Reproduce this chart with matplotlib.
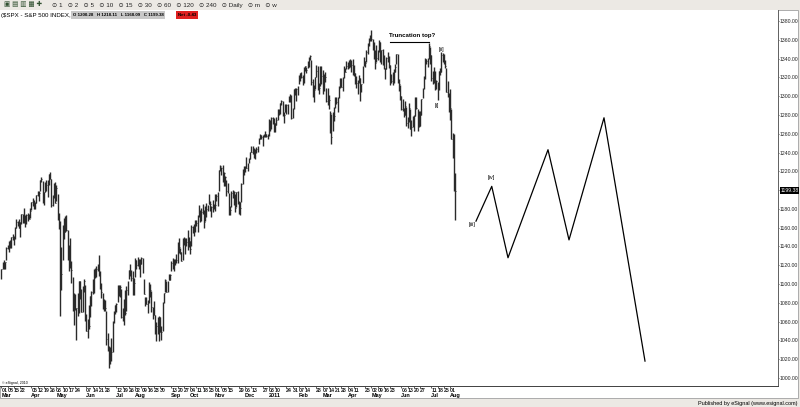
import numpy as np
import pandas as pd
import matplotlib
matplotlib.use("Agg")
import matplotlib.pyplot as plt
import matplotlib.transforms as mtransforms
from matplotlib.patches import Rectangle

plt.rcParams['font.family'] = ['Liberation Sans', 'DejaVu Sans']

# trading calendar, Mar 2010 - Aug 2011
start, end = "2010-03-01", "2011-08-05"
holidays = ["2010-04-02", "2010-05-31", "2010-07-05", "2010-09-06", "2010-11-25",
            "2010-12-24", "2011-01-17", "2011-02-21", "2011-04-22", "2011-05-30",
            "2011-07-04"]

# daily highs / lows / closes, month by month
highs = [
    # 2010 Mar
    1116.0, 1123.5, 1125.6, 1123.7, 1139.4, 1141.1, 1145.4, 1147.4, 1150.2, 1153.4, 1151.4, 1160.3,
    1169.6, 1167.0, 1169.2, 1166.1, 1174.7, 1174.6, 1180.7, 1173.9, 1174.9, 1175.7, 1174.9,
    # Apr
    1181.4, 1187.7, 1191.8, 1189.6, 1187.0, 1194.7, 1199.2, 1199.0, 1210.7, 1213.9, 1210.2, 1197.9,
    1208.5, 1210.6, 1210.3, 1217.3, 1219.8, 1211.4, 1195.0, 1207.3, 1208.9,
    # May
    1205.1, 1196.2, 1175.9, 1167.6, 1139.4, 1163.2, 1170.5, 1172.9, 1173.6, 1157.2, 1141.8, 1148.7,
    1124.3, 1107.3, 1090.2, 1089.0, 1074.8, 1090.8, 1103.5, 1102.9,
    # Jun
    1094.8, 1098.4, 1105.7, 1098.6, 1067.9, 1063.0, 1077.7, 1087.0, 1092.3, 1105.9, 1115.6, 1116.6,
    1118.7, 1121.0, 1131.2, 1114.0, 1101.3, 1090.8, 1083.6, 1082.6, 1071.0, 1048.1,
    # Jul
    1033.6, 1032.9, 1042.5, 1060.6, 1071.3, 1078.2, 1080.3, 1099.1, 1099.5, 1099.1, 1094.9, 1074.7,
    1083.9, 1093.7, 1097.5, 1103.7, 1115.0, 1120.9, 1114.7, 1113.7, 1106.4,
    # Aug
    1127.3, 1125.4, 1128.7, 1126.6, 1126.6, 1129.2, 1127.3, 1105.9, 1086.1, 1086.3, 1082.6, 1101.7,
    1099.8, 1092.9, 1075.6, 1081.6, 1067.4, 1059.4, 1065.2, 1065.8, 1064.8, 1055.1,
    # Sep
    1081.3, 1090.1, 1105.1, 1103.1, 1103.3, 1110.9, 1110.3, 1124.1, 1127.4, 1126.3, 1126.8, 1131.5,
    1144.4, 1148.9, 1138.1, 1133.9, 1148.9, 1149.9, 1149.0, 1148.6, 1157.2,
    # Oct
    1150.3, 1146.1, 1162.8, 1162.3, 1163.9, 1167.7, 1168.7, 1173.5, 1184.4, 1178.9, 1181.2, 1185.5,
    1178.5, 1182.9, 1186.7, 1183.9, 1196.1, 1187.9, 1183.4, 1189.5, 1185.5,
    # Nov
    1195.8, 1195.9, 1198.3, 1221.3, 1227.1, 1224.6, 1226.8, 1218.8, 1215.4, 1210.5, 1207.4, 1197.3,
    1183.6, 1199.0, 1200.0, 1198.9, 1196.0, 1198.4, 1198.9, 1187.9, 1187.4,
    # Dec
    1207.6, 1222.5, 1225.6, 1225.7, 1235.1, 1228.9, 1234.3, 1240.4, 1246.7, 1246.6, 1244.3, 1243.8,
    1245.6, 1247.1, 1255.0, 1259.4, 1258.6, 1258.6, 1259.9, 1262.6, 1260.0, 1259.3,
    # 2011 Jan
    1276.2, 1274.1, 1277.6, 1278.2, 1276.8, 1271.5, 1277.6, 1286.3, 1286.3, 1293.2, 1296.1, 1294.4,
    1283.5, 1291.9, 1291.3, 1291.3, 1299.7, 1302.7, 1301.3, 1287.2,
    # Feb
    1308.0, 1308.4, 1308.6, 1311.0, 1322.9, 1324.9, 1326.0, 1323.0, 1330.8, 1332.6, 1330.9, 1337.6,
    1341.5, 1344.1, 1338.9, 1317.9, 1312.4, 1320.6, 1333.3,
    # Mar
    1332.3, 1314.4, 1332.3, 1332.3, 1327.7, 1324.0, 1326.0, 1308.4, 1308.4, 1301.5, 1283.7, 1280.9,
    1282.8, 1288.9, 1298.6, 1299.0, 1298.6, 1311.3, 1319.2, 1319.2, 1320.0, 1331.7, 1329.8,
    # Apr
    1337.9, 1336.7, 1338.2, 1339.5, 1338.8, 1339.5, 1333.2, 1324.5, 1321.4, 1316.8, 1323.0, 1319.7,
    1312.7, 1332.1, 1341.2, 1337.5, 1349.6, 1357.1, 1361.7, 1364.6,
    # May
    1370.6, 1361.2, 1357.5, 1348.7, 1354.4, 1349.4, 1359.4, 1357.2, 1348.7, 1350.5, 1343.3, 1330.4,
    1341.6, 1346.8, 1342.8, 1333.1, 1323.7, 1325.9, 1328.5, 1334.0, 1345.2,
    # Jun
    1345.2, 1318.0, 1312.2, 1300.6, 1297.0, 1287.2, 1294.5, 1288.9, 1277.3, 1292.5, 1286.6, 1274.3,
    1279.0, 1280.4, 1298.6, 1298.6, 1286.8, 1284.0, 1284.5, 1296.9, 1309.2, 1321.9,
    # Jul
    1341.0, 1340.0, 1340.1, 1356.5, 1352.2, 1343.7, 1327.2, 1331.5, 1326.7, 1317.1, 1315.5, 1327.0,
    1330.4, 1347.0, 1346.1, 1345.0, 1338.0, 1329.6, 1316.3, 1303.5,
    # Aug
    1307.4, 1286.6, 1261.0, 1260.1, 1218.1,
]

lows = [
    # 2010 Mar
    1105.4, 1116.1, 1116.1, 1116.1, 1125.5, 1137.8, 1134.6, 1138.8, 1138.8, 1146.9, 1141.2, 1147.8,
    1159.5, 1161.8, 1159.5, 1150.5, 1163.5, 1165.1, 1164.7, 1161.1, 1163.8, 1167.6, 1169.2,
    # Apr
    1170.7, 1178.7, 1182.8, 1180.1, 1179.9, 1186.0, 1194.1, 1188.8, 1198.9, 1208.5, 1186.8, 1183.7,
    1197.5, 1198.9, 1193.0, 1205.1, 1211.3, 1181.6, 1182.8, 1191.6, 1186.6,
    # May
    1188.6, 1168.1, 1158.2, 1065.8, 1094.2, 1126.0, 1147.7, 1155.9, 1156.1, 1126.1, 1114.0, 1117.2,
    1100.7, 1071.6, 1055.9, 1072.5, 1040.8, 1065.6, 1069.6, 1084.1,
    # Jun
    1069.9, 1070.7, 1091.8, 1060.5, 1050.4, 1042.2, 1052.3, 1065.1, 1077.1, 1089.0, 1091.0, 1106.0,
    1107.4, 1113.9, 1108.2, 1094.6, 1085.0, 1073.6, 1071.5, 1071.5, 1035.2, 1029.2,
    # Jul
    1010.9, 1015.0, 1018.4, 1028.2, 1058.2, 1068.2, 1070.6, 1080.5, 1087.7, 1086.2, 1063.6, 1061.1,
    1056.9, 1066.6, 1071.3, 1087.9, 1105.0, 1109.1, 1103.1, 1088.4, 1088.0,
    # Aug
    1107.2, 1116.1, 1119.5, 1116.1, 1107.2, 1120.9, 1111.6, 1089.5, 1076.7, 1079.0, 1069.6, 1079.8,
    1085.9, 1070.0, 1063.2, 1067.1, 1046.7, 1039.8, 1046.7, 1039.7, 1048.6, 1040.9,
    # Sep
    1050.3, 1080.3, 1091.2, 1091.8, 1091.8, 1103.9, 1103.9, 1113.4, 1115.6, 1113.5, 1120.0, 1122.4,
    1122.8, 1132.6, 1131.6, 1124.6, 1125.8, 1142.0, 1131.9, 1140.0, 1136.1,
    # Oct
    1139.4, 1131.9, 1140.7, 1154.8, 1151.4, 1155.7, 1162.0, 1155.6, 1171.3, 1166.4, 1167.1, 1174.6,
    1159.7, 1166.7, 1171.2, 1178.1, 1184.7, 1177.7, 1171.7, 1177.1, 1179.8,
    # Nov
    1177.7, 1187.9, 1183.6, 1198.6, 1220.3, 1215.7, 1208.9, 1204.3, 1204.5, 1194.1, 1197.2, 1173.0,
    1173.0, 1182.0, 1191.7, 1184.4, 1176.9, 1182.4, 1184.8, 1174.1, 1173.6,
    # Dec
    1187.2, 1206.3, 1216.1, 1218.9, 1223.3, 1219.9, 1228.4, 1232.6, 1240.3, 1238.7, 1234.5, 1232.9,
    1239.9, 1240.1, 1249.4, 1254.2, 1254.0, 1246.7, 1256.2, 1256.8, 1256.2, 1254.5,
    # 2011 Jan
    1257.6, 1262.7, 1265.4, 1270.4, 1261.7, 1262.2, 1269.6, 1274.1, 1280.2, 1281.2, 1290.2, 1278.9,
    1271.3, 1283.1, 1281.1, 1281.1, 1293.8, 1293.8, 1275.9, 1276.3,
    # Feb
    1286.6, 1301.2, 1294.8, 1301.0, 1312.7, 1316.3, 1319.3, 1312.3, 1313.8, 1326.9, 1324.6, 1329.7,
    1331.0, 1338.1, 1312.4, 1299.6, 1294.3, 1307.6, 1320.6,
    # Mar
    1306.1, 1302.6, 1310.6, 1312.6, 1302.6, 1305.3, 1314.9, 1294.2, 1291.0, 1286.4, 1261.3, 1249.1,
    1263.1, 1273.3, 1287.9, 1291.7, 1283.0, 1297.8, 1308.3, 1310.2, 1305.3, 1319.2, 1325.7,
    # Apr
    1328.5, 1329.1, 1330.0, 1331.1, 1326.0, 1322.9, 1321.1, 1312.7, 1309.2, 1302.7, 1314.4, 1294.7,
    1303.9, 1313.6, 1331.9, 1331.5, 1336.0, 1344.5, 1353.7, 1358.7,
    # May
    1358.6, 1348.8, 1340.0, 1329.2, 1336.4, 1338.5, 1346.7, 1336.4, 1333.9, 1333.4, 1329.0, 1318.5,
    1329.0, 1336.0, 1330.4, 1312.0, 1313.9, 1311.8, 1314.5, 1325.2, 1334.0,
    # Jun
    1313.7, 1305.6, 1296.0, 1284.9, 1284.2, 1277.6, 1279.5, 1268.3, 1265.6, 1272.2, 1265.1, 1258.1,
    1267.6, 1262.7, 1278.4, 1286.8, 1262.7, 1267.4, 1267.9, 1280.1, 1298.0, 1307.2,
    # Jul
    1318.5, 1334.3, 1330.9, 1339.2, 1333.7, 1316.4, 1313.3, 1313.6, 1306.5, 1307.9, 1295.9, 1306.1,
    1323.0, 1325.7, 1336.1, 1334.6, 1330.0, 1304.6, 1299.2, 1282.9,
    # Aug
    1274.7, 1254.0, 1234.6, 1199.5, 1168.1,
]

closes = [
    # 2010 Mar
    1115.7, 1118.3, 1118.8, 1123.0, 1138.7, 1138.5, 1140.5, 1145.6, 1150.2, 1150.0, 1150.5, 1159.5,
    1166.2, 1165.8, 1159.9, 1165.8, 1174.2, 1167.7, 1165.7, 1166.6, 1173.2, 1173.3, 1169.4,
    # Apr
    1178.1, 1187.4, 1189.4, 1182.5, 1186.4, 1194.4, 1196.5, 1197.3, 1210.7, 1211.7, 1192.1, 1197.5,
    1207.2, 1205.9, 1208.7, 1217.3, 1212.1, 1183.7, 1191.4, 1206.8, 1186.7,
    # May
    1202.3, 1173.6, 1165.9, 1128.2, 1110.9, 1159.7, 1155.8, 1171.7, 1157.4, 1135.7, 1136.9, 1120.8,
    1115.1, 1071.6, 1087.7, 1073.7, 1074.0, 1068.0, 1103.1, 1089.4,
    # Jun
    1070.7, 1098.4, 1102.8, 1064.9, 1050.5, 1062.0, 1055.7, 1086.8, 1091.6, 1089.6, 1115.2, 1114.6,
    1116.0, 1117.5, 1113.2, 1095.3, 1092.0, 1073.7, 1076.8, 1074.6, 1041.2, 1030.7,
    # Jul
    1027.4, 1022.6, 1028.1, 1060.3, 1070.3, 1078.0, 1078.8, 1095.3, 1095.2, 1096.5, 1064.9, 1071.3,
    1083.5, 1069.6, 1093.7, 1102.7, 1115.0, 1113.8, 1106.1, 1101.5, 1101.6,
    # Aug
    1125.9, 1120.5, 1127.2, 1125.8, 1121.6, 1127.8, 1121.1, 1089.5, 1083.6, 1079.3, 1079.4, 1092.5,
    1094.2, 1075.6, 1071.7, 1067.4, 1051.9, 1055.3, 1047.2, 1064.6, 1048.9, 1049.3,
    # Sep
    1080.3, 1090.1, 1104.5, 1091.8, 1098.9, 1104.2, 1109.6, 1121.9, 1121.1, 1125.1, 1124.7, 1125.6,
    1142.7, 1139.8, 1134.3, 1124.8, 1148.7, 1142.2, 1147.7, 1144.7, 1141.2,
    # Oct
    1146.2, 1137.0, 1160.8, 1160.0, 1158.1, 1165.2, 1165.3, 1169.8, 1178.1, 1173.8, 1176.2, 1184.7,
    1165.9, 1178.2, 1180.3, 1183.1, 1185.6, 1185.6, 1182.4, 1183.8, 1183.3,
    # Nov
    1184.4, 1193.6, 1198.0, 1221.1, 1225.9, 1223.3, 1213.4, 1218.7, 1213.5, 1199.2, 1197.8, 1178.3,
    1178.6, 1196.7, 1199.7, 1197.8, 1180.7, 1198.4, 1189.4, 1187.8, 1180.6,
    # Dec
    1206.1, 1221.5, 1224.7, 1223.1, 1223.8, 1228.3, 1233.0, 1240.4, 1240.5, 1241.6, 1235.2, 1242.9,
    1243.9, 1247.1, 1254.6, 1258.8, 1256.8, 1257.5, 1258.5, 1259.8, 1257.9, 1257.6,
    # 2011 Jan
    1271.9, 1270.2, 1276.6, 1273.9, 1271.5, 1269.8, 1274.5, 1286.0, 1283.8, 1293.2, 1295.0, 1281.9,
    1280.3, 1283.4, 1290.8, 1291.2, 1296.6, 1299.5, 1276.3, 1286.1,
    # Feb
    1307.6, 1304.0, 1307.1, 1310.9, 1319.1, 1324.6, 1320.9, 1321.9, 1329.2, 1332.3, 1328.0, 1336.3,
    1340.4, 1343.0, 1315.4, 1307.4, 1306.1, 1319.9, 1327.2,
    # Mar
    1306.3, 1308.4, 1331.0, 1321.2, 1310.1, 1321.8, 1320.0, 1295.1, 1304.3, 1296.4, 1281.9, 1256.9,
    1273.7, 1279.2, 1298.4, 1293.8, 1297.5, 1309.7, 1313.8, 1310.2, 1319.4, 1328.3, 1325.8,
    # Apr
    1332.4, 1332.9, 1332.6, 1335.5, 1333.5, 1328.2, 1324.5, 1314.2, 1314.4, 1314.5, 1319.7, 1305.1,
    1312.6, 1330.4, 1337.4, 1335.3, 1347.2, 1355.7, 1360.5, 1363.6,
    # May
    1361.2, 1356.6, 1347.3, 1335.1, 1340.2, 1346.3, 1357.2, 1342.1, 1348.7, 1337.8, 1329.5, 1329.0,
    1340.7, 1343.6, 1333.3, 1317.4, 1316.3, 1320.5, 1325.7, 1331.1, 1345.2,
    # Jun
    1314.6, 1312.9, 1300.2, 1286.2, 1284.9, 1279.6, 1289.0, 1271.0, 1271.8, 1287.9, 1265.4, 1267.6,
    1271.5, 1278.4, 1295.5, 1287.1, 1283.5, 1268.5, 1280.1, 1296.7, 1307.4, 1320.6,
    # Jul
    1339.7, 1337.9, 1339.2, 1353.2, 1343.8, 1319.5, 1313.6, 1317.7, 1308.9, 1316.1, 1305.4, 1326.7,
    1325.8, 1343.8, 1345.0, 1337.4, 1331.9, 1304.9, 1300.7, 1292.3,
    # Aug
    1287.0, 1254.1, 1260.3, 1200.1, 1199.4,
]

# projected wave path (bar index, price)
proj_x = [379.8, 392.4, 405.4, 437.4, 454.2, 482.2, 515.0]
proj_y = [1167, 1204, 1128, 1243, 1147, 1277, 1018]

# weekly tick dates shown on the time axis
tick_dates = ["2010-03-01", "2010-03-08", "2010-03-15", "2010-03-22", "2010-04-05", "2010-04-12",
              "2010-04-19", "2010-04-26", "2010-05-03", "2010-05-10", "2010-05-17", "2010-05-24",
              "2010-06-07", "2010-06-14", "2010-06-21", "2010-06-28", "2010-07-12", "2010-07-19",
              "2010-07-26", "2010-08-02", "2010-08-09", "2010-08-16", "2010-08-23", "2010-08-30",
              "2010-09-13", "2010-09-20", "2010-09-27", "2010-10-04", "2010-10-11", "2010-10-18",
              "2010-10-25", "2010-11-01", "2010-11-08", "2010-11-15", "2010-11-29", "2010-12-06",
              "2010-12-13", "2010-12-27", "2011-01-03", "2011-01-10", "2011-01-24", "2011-01-31",
              "2011-02-07", "2011-02-14", "2011-02-28", "2011-03-07", "2011-03-14", "2011-03-21",
              "2011-03-28", "2011-04-04", "2011-04-11", "2011-04-25", "2011-05-02", "2011-05-09",
              "2011-05-16", "2011-05-23", "2011-06-06", "2011-06-13", "2011-06-20", "2011-06-27",
              "2011-07-11", "2011-07-18", "2011-07-25", "2011-08-01"]

price_ticks = list(range(1000, 1381, 20))
last_close = 1199.38

days = pd.bdate_range(start, end)
days = days[~days.isin(pd.to_datetime(holidays))]
idx = np.arange(len(days))

fig = plt.figure(figsize=(8, 4.07), dpi=100, facecolor='#ece9e4')
W, H = 800, 407

def fx(px):
    return px / W

def fy(py):
    return 1 - py / H

# white chart panel, drawn underneath the axes
fig.patches.append(Rectangle((0, fy(398)), fx(798), fy(10) - fy(398), transform=fig.transFigure,
                             facecolor='white', edgecolor='#a0a0a0', lw=0.6, zorder=-5))

ax = fig.add_axes([0, fy(386), fx(778), fy(10) - fy(386)])
ax.set_zorder(2)
ax.set_facecolor('white')
ax.set_xlim(-1, 621.4)
ax.set_ylim(991.5, 1391.7)

# OHLC bars
ax.vlines(idx, lows, highs, color='#2a2a2a', lw=1.0)
ax.hlines(closes, idx, idx + 0.6, color='#2a2a2a', lw=0.6)

# projection
ax.plot(proj_x, proj_y, color='black', lw=0.9)

# annotations
ax.plot([311, 342], [1357.5, 1357.5], color='black', lw=0.8)
ax.text(328.6, 1364.5, "Truncation top?", fontsize=4.4, ha='center', va='center', fontweight='bold')
ax.text(352.2, 1349.5, "[ii]", fontsize=4.1, ha='center', va='center')
ax.text(348.6, 1290.5, "[i]", fontsize=4.1, ha='center', va='center')
ax.text(376.4, 1163.5, "[iii]", fontsize=4.1, ha='center', va='center')
ax.text(392.4, 1213.5, "[iv]", fontsize=4.1, ha='center', va='center')

# axes styling
for s in ['top', 'left']:
    ax.spines[s].set_visible(False)
ax.spines['right'].set_color('#606060')
ax.spines['bottom'].set_color('#404040')
ax.spines['right'].set_linewidth(0.7)
ax.spines['bottom'].set_linewidth(0.7)

ax.yaxis.tick_right()
ax.set_yticks(price_ticks)
ax.set_yticklabels([f"{v:.2f}" for v in price_ticks], fontsize=3.7)
ax.tick_params(axis='y', length=0.8, width=0.5, pad=0.5, colors='#202020')

tick_pos = [days.get_loc(pd.Timestamp(d)) for d in tick_dates]
ax.set_xticks(tick_pos)
ax.set_xticklabels([pd.Timestamp(d).strftime('%d') for d in tick_dates], fontsize=3.8,
                   fontweight='bold', ha='left')
ax.tick_params(axis='x', length=1.2, width=0.5, pad=0.3, colors='#202020')

# month row
trans = mtransforms.blended_transform_factory(ax.transData, fig.transFigure)
seen = set()
for d, p in zip(tick_dates, tick_pos):
    ts = pd.Timestamp(d)
    key = (ts.year, ts.month)
    if key in seen:
        continue
    seen.add(key)
    lab = "2011" if key == (2011, 1) else ts.strftime('%b')
    ax.text(p, fy(395.5), lab, transform=trans, fontsize=4.0, fontweight='bold',
            ha='left', va='center', clip_on=False)

# last price marker
ytrans = mtransforms.blended_transform_factory(ax.transAxes, ax.transData)
ax.text(1.003, last_close, f"{last_close:.2f}", transform=ytrans, fontsize=3.7, color='white',
        ha='left', va='center', clip_on=False, zorder=5,
        bbox=dict(boxstyle='square,pad=0.15', facecolor='black', edgecolor='none'))

# header
fig.patches.append(Rectangle((0, fy(10)), 1, fy(0) - fy(10), transform=fig.transFigure,
                             facecolor='#ece9e4', edgecolor='none', zorder=-4))
fig.text(fx(4), fy(5), "▣ ▤ ▥ ▦ ✚", fontsize=4.8, color='#305030', va='center', ha='left')
fig.text(fx(52), fy(5), "⊙ 1   ⊙ 2   ⊙ 5   ⊙ 10   ⊙ 15   ⊙ 30   ⊙ 60   ⊙ 120   ⊙ 240   ⊙ Daily   ⊙ m   ⊙ w",
         fontsize=4.5, va='center', ha='left', color='#202020')
fig.text(fx(1), fy(15), "($SPX - S&P 500 INDEX,D)", fontsize=4.4, va='center', ha='left')
fig.text(fx(73), fy(15), "O 1200.28   H 1218.11   L 1168.09   C 1199.38", fontsize=3.2,
         va='center', ha='left', fontweight='bold',
         bbox=dict(boxstyle='square,pad=0.35', facecolor='#c8c8c8', edgecolor='none'))
fig.text(fx(178), fy(15), "Net -0.43", fontsize=3.2, va='center', ha='left', fontweight='bold',
         bbox=dict(boxstyle='square,pad=0.35', facecolor='#e02020', edgecolor='none'))

# footer
fig.text(fx(2), fy(383), "© eSignal, 2010", fontsize=2.6, va='center', ha='left')
fig.text(fx(797), fy(403), "Published by eSignal (www.esignal.com)", fontsize=4.0,
         va='center', ha='right')

fig.savefig("out.png", dpi=100, facecolor=fig.get_facecolor())
